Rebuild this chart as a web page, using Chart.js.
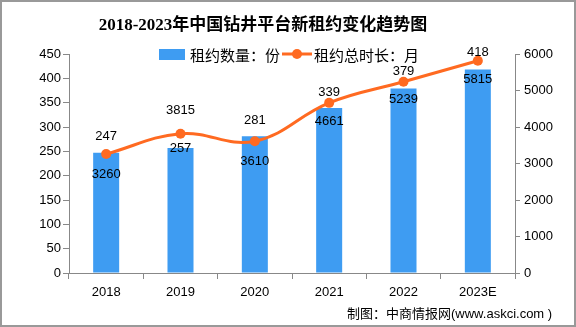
<!DOCTYPE html>
<html>
<head>
<meta charset="utf-8">
<script src="https://cdn.jsdelivr.net/npm/chart.js@4/dist/chart.umd.min.js"></script>
<style>
  html, body { margin: 0; padding: 0; background: #fff; }
  #wrap { position: relative; width: 576px; height: 327px; overflow: hidden; }
  #c { position: absolute; left: 0; top: 0; }
  #frame { position: absolute; left: 0; top: 0; width: 572px; height: 323px; border: 2px solid #999; pointer-events: none; }
  #title { position: absolute; left: 0; width: 526px; top: 10px; text-align: center;
    font: bold 17px "Liberation Serif", "Noto Sans CJK SC", serif; color: #000; white-space: nowrap; }
  #source { position: absolute; left: 347px; top: 303px; font: 13px "Noto Sans CJK SC", sans-serif; color: #000; white-space: nowrap; }
  #source span { font-family: "Liberation Sans", sans-serif; }
</style>
</head>
<body>
<div id="wrap">
  <canvas id="c" width="576" height="327"></canvas>
  <div id="title">2018-2023年中国钻井平台新租约变化趋势图</div>
  <div id="source">制图：中商情报网<span>(www.askci.com )</span></div>
  <div id="frame"></div>
</div>
<script>
const categories = ['2018', '2019', '2020', '2021', '2022', '2023E'];
const leaseCount = [247, 257, 281, 339, 379, 418];
const leaseMonths = [3260, 3815, 3610, 4661, 5239, 5815];
const seriesNames = ['租约数量：份', '租约总时长：月'];
const leftMax = 450, leftStep = 50;
const rightMax = 6000, rightStep = 1000;

// label vertical offsets (style only)
const barLabelOffsets = [-16, 0, -16, -16, -17, -17];
const lineLabelOffsets = [20, -23, 20, 19, 18, 19];

const BLUE = '#3E9CF2';
const ORANGE = '#FF6A21';
const AXIS = '#888';
const numFont = '13px "Liberation Sans", Arial, sans-serif';

const labelPlugin = {
  id: 'valueLabels',
  afterDatasetsDraw(chart) {
    const ctx = chart.ctx;
    ctx.save();
    ctx.font = numFont;
    ctx.fillStyle = '#000';
    ctx.textAlign = 'center';
    ctx.textBaseline = 'middle';
    chart.getDatasetMeta(0).data.forEach((el, i) => {
      ctx.fillText(String(leaseCount[i]), el.x, el.y + barLabelOffsets[i]);
    });
    chart.getDatasetMeta(1).data.forEach((el, i) => {
      ctx.fillText(String(leaseMonths[i]), el.x, el.y + lineLabelOffsets[i]);
    });
    ctx.restore();
  }
};

const legendPlugin = {
  id: 'customLegend',
  afterDraw(chart) {
    const ctx = chart.ctx;
    ctx.save();
    const cy = 54;
    ctx.fillStyle = BLUE;
    ctx.fillRect(159, 49, 26, 11);
    ctx.font = '15px "Noto Sans CJK SC", sans-serif';
    ctx.fillStyle = '#000';
    ctx.textAlign = 'left';
    ctx.textBaseline = 'middle';
    ctx.fillText(seriesNames[0], 190, cy + 1);
    ctx.strokeStyle = ORANGE;
    ctx.lineWidth = 3;
    ctx.beginPath();
    ctx.moveTo(282, cy);
    ctx.lineTo(312, cy);
    ctx.stroke();
    ctx.fillStyle = ORANGE;
    ctx.beginPath();
    ctx.arc(297, cy, 5, 0, Math.PI * 2);
    ctx.fill();
    ctx.fillStyle = '#000';
    ctx.fillText(seriesNames[1], 314, cy + 1);
    ctx.restore();
  }
};

new Chart(document.getElementById('c'), {
  data: {
    labels: categories,
    datasets: [
      {
        type: 'bar',
        label: seriesNames[0],
        data: leaseCount,
        backgroundColor: BLUE,
        yAxisID: 'y',
        order: 2,
        categoryPercentage: 1,
        barPercentage: 0.35
      },
      {
        type: 'line',
        label: seriesNames[1],
        data: leaseMonths,
        borderColor: ORANGE,
        backgroundColor: ORANGE,
        borderWidth: 3,
        pointRadius: 5,
        pointBackgroundColor: ORANGE,
        pointBorderWidth: 0,
        tension: 0.4,
        yAxisID: 'y1',
        order: 1
      }
    ]
  },
  options: {
    responsive: false,
    animation: false,
    layout: { padding: { left: 0, right: 0, top: 54, bottom: 0 } },
    plugins: { legend: { display: false }, title: { display: false }, tooltip: { enabled: false } },
    scales: {
      x: {
        offset: true,
        grid: { offset: true, drawOnChartArea: false, tickLength: 6, color: AXIS, lineWidth: 1 },
        border: { color: AXIS, width: 1 },
        ticks: { font: { family: '"Liberation Sans", Arial, sans-serif', size: 13 }, color: '#000', padding: 6 },
        afterFit(s) { s.height = 54; }
      },
      y: {
        position: 'left',
        min: 0, max: leftMax,
        grid: { drawOnChartArea: false, tickLength: 6, color: AXIS },
        border: { color: AXIS, width: 1 },
        ticks: { stepSize: leftStep, font: { family: '"Liberation Sans", Arial, sans-serif', size: 13 }, color: '#000', padding: 2,
          callback: v => String(v) },
        afterFit(s) { s.width = 69; }
      },
      y1: {
        position: 'right',
        min: 0, max: rightMax,
        grid: { drawOnChartArea: false, tickLength: 5, color: AXIS },
        border: { color: AXIS, width: 1 },
        ticks: { stepSize: rightStep, font: { family: '"Liberation Sans", Arial, sans-serif', size: 13 }, color: '#000', padding: 4,
          callback: v => String(v) },
        afterFit(s) { s.width = 61; }
      }
    }
  },
  plugins: [labelPlugin, legendPlugin]
});
</script>
</body>
</html>
